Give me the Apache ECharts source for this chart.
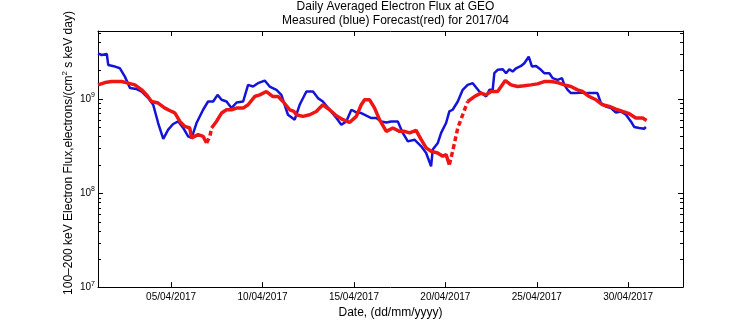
<!DOCTYPE html>
<html><head><meta charset="utf-8">
<script src="https://cdn.jsdelivr.net/npm/echarts@6/dist/echarts.min.js"></script>
<style>html,body{margin:0;padding:0;background:#fff}#c{width:756px;height:324px}</style>
</head><body><div id="c"></div><script>
// Day of April (1.0 = 01/04/2017 00:00), flux in units of 1e9
const blueDays = [1.00,1.20,1.48,1.56,1.93,2.20,2.47,2.75,3.11,3.39,3.75,4.02,4.29,4.57,4.84,5.11,5.39,5.66,5.93,6.12,6.39,6.75,7.02,7.30,7.54,7.76,8.03,8.30,8.58,8.94,9.21,9.48,9.75,10.12,10.39,10.76,11.03,11.39,11.49,11.76,12.03,12.40,12.76,13.03,13.30,13.67,14.04,14.31,14.58,14.86,15.13,15.40,15.68,15.95,16.22,16.49,16.77,17.04,17.40,17.67,17.95,18.31,18.68,18.95,19.22,19.31,19.59,19.77,20.04,20.22,20.40,20.68,20.95,21.22,21.50,21.86,22.23,22.41,22.59,22.68,22.86,23.14,23.32,23.50,23.68,23.87,24.14,24.32,24.56,24.74,24.96,25.23,25.41,25.69,25.87,26.14,26.38,26.51,26.69,26.87,27.14,27.50,27.78,28.05,28.32,28.51,28.78,29.06,29.33,29.60,29.88,30.15,30.33,30.61,30.87,30.97];
const blueFluxE9 = [3.04,2.92,2.99,2.29,2.20,2.11,1.72,1.30,1.27,1.195,1.017,0.864,0.553,0.375,0.47,0.54,0.575,0.49,0.399,0.384,0.553,0.765,0.936,0.936,1.10,0.976,0.936,0.797,0.914,0.936,1.406,1.35,1.466,1.562,1.35,1.245,1.10,0.677,0.650,0.60,0.864,1.195,1.195,1.017,0.936,0.765,0.625,0.531,0.575,0.765,0.716,0.706,0.661,0.625,0.625,0.575,0.561,0.575,0.575,0.434,0.353,0.368,0.313,0.266,0.192,0.289,0.340,0.434,0.553,0.734,0.765,0.936,1.245,1.406,1.466,1.195,1.057,1.245,1.245,1.87,2.03,2.06,1.87,2.06,1.945,2.11,2.235,2.387,2.80,2.20,2.235,2.03,1.87,1.87,1.656,1.589,1.656,1.406,1.245,1.149,1.149,1.166,1.149,1.149,1.149,0.901,0.829,0.797,0.716,0.734,0.677,0.575,0.502,0.49,0.481,0.502];

// null flux = gap in the forecast line
const redDays = [1.00,1.38,1.75,2.29,2.65,3.02,3.39,3.66,3.93,4.29,4.66,5.03,5.21,5.48,5.75,6.02,6.12,6.48,6.75,6.94,7.05,7.21,7.48,7.76,8.03,8.30,8.58,8.94,9.21,9.57,9.85,10.21,10.57,10.85,11.12,11.49,11.72,11.85,12.21,12.58,12.94,13.30,13.67,14.04,14.40,14.76,15.13,15.40,15.58,15.86,16.13,16.40,16.77,17.13,17.49,17.77,18.04,18.40,18.68,18.95,19.22,19.58,19.86,20.04,20.22,20.70,21.22,21.59,21.95,22.23,22.50,22.86,23.05,23.28,23.59,23.95,24.32,24.68,25.04,25.41,25.78,26.14,26.51,26.87,27.23,27.50,27.87,28.24,28.60,28.97,29.33,29.70,30.06,30.42,30.79,31.01];
const redFluxE9 = [1.406,1.488,1.524,1.524,1.466,1.406,1.245,1.10,0.936,0.901,0.797,0.734,0.706,0.575,0.509,0.49,0.384,0.416,0.399,0.340,null,0.49,0.575,0.706,0.765,0.765,0.797,0.797,0.864,1.057,1.10,1.195,1.057,1.057,0.936,0.765,0.734,0.677,0.650,0.677,0.734,0.864,0.765,0.661,0.60,0.561,0.650,0.864,0.976,0.976,0.797,0.60,0.451,0.49,0.451,0.451,0.434,0.462,0.368,0.301,0.277,0.266,0.245,0.2555,0.200,null,0.936,1.057,1.149,1.10,1.195,1.195,1.35,1.562,1.406,1.35,1.373,1.406,1.441,1.524,1.524,1.488,1.406,1.35,1.245,1.195,1.057,0.976,0.864,0.829,0.778,0.734,0.694,0.625,0.625,0.589];
// sparse (dotted-looking) stretches of the forecast
const redGapDays = [6.94,7.12,7.21,12.0,20.22,20.40,20.68,20.95,21.22];
const redGapFluxE9 = [0.340,0.399,0.49,null,0.200,0.277,0.49,0.677,0.936];

const dateTicks = [5,10,15,20,25,30];
const dateLabels = ['05/04/2017','10/04/2017','15/04/2017','20/04/2017','25/04/2017','30/04/2017'];
const yMajor = [1e7,1e8,1e9];
const yMinor = [2e7,3e7,4e7,5e7,6e7,7e7,8e7,9e7,2e8,3e8,4e8,5e8,6e8,7e8,8e8,9e8,2e9,3e9,4e9,5e9];
const xMin = 1, xMax = 33, yMin = 1e7, yMax = 5.25e9;

const toPairs = (d, f) => d.map((x, i) => [x, f[i] == null ? '-' : f[i] * 1e9]);
const FONT = 'Liberation Sans, Arial, sans-serif';
const AX = {color:'#000', width:1};

const chart = echarts.init(document.getElementById('c'), null, {renderer:'canvas'});
chart.setOption({
  animation:false,
  backgroundColor:'#fff',
  textStyle:{fontFamily:FONT},
  title:{
    text:'Daily Averaged Electron Flux at GEO\nMeasured (blue) Forecast(red) for 2017/04',
    left:390.5, top:-5, textAlign:'center',
    textStyle:{fontSize:12, fontWeight:'normal', color:'#000', lineHeight:13.5, fontFamily:FONT}
  },
  graphic:[{
    type:'text', x:68.5, y:153, rotation:Math.PI/2,
    style:{
      text:'100\u2013200 keV Electron Flux,electrons/(cm{s|2} s keV day)',
      fontSize:12, fontFamily:FONT, fill:'#000', align:'center', verticalAlign:'middle', lineHeight:15,
      rich:{s:{fontSize:8, fontFamily:FONT, fill:'#000', lineHeight:9, verticalAlign:'top'}}
    }
  }],
  grid:[
    {left:98, right:73, top:31, bottom:36},
    {left:98, right:73, top:31, bottom:36}
  ],
  xAxis:[
    {type:'value', gridIndex:0, min:xMin, max:xMax, position:'bottom',
     axisLine:{show:true, lineStyle:AX},
     axisTick:{show:true, inside:true, length:5, customValues:dateTicks, lineStyle:AX},
     axisLabel:{customValues:dateTicks, formatter:(v)=>dateLabels[dateTicks.indexOf(Math.round(v))], fontSize:10, color:'#000', margin:5, fontFamily:FONT},
     splitLine:{show:false},
     name:'Date, (dd/mm/yyyy)', nameLocation:'middle', nameGap:16,
     nameTextStyle:{fontSize:12, color:'#000', fontFamily:FONT, verticalAlign:'top'}},
    {type:'value', gridIndex:0, min:xMin, max:xMax, position:'top',
     axisLine:{show:true, lineStyle:AX},
     axisTick:{show:true, inside:true, length:5, customValues:dateTicks, lineStyle:AX},
     axisLabel:{show:false}, splitLine:{show:false}},
    {type:'value', gridIndex:1, min:xMin, max:xMax, show:false}
  ],
  yAxis:[
    {type:'log', logBase:10, gridIndex:0, min:yMin, max:yMax, position:'left',
     axisLine:{show:true, lineStyle:AX},
     axisTick:{show:true, inside:true, length:5, customValues:yMajor, lineStyle:AX},
     axisLabel:{customValues:yMajor, margin:3, color:'#000',
       formatter:(v)=>'{b|10}{s|' + Math.round(Math.log10(v)) + '}',
       rich:{b:{fontSize:10, fontFamily:FONT, color:'#000', lineHeight:14},
             s:{fontSize:7, fontFamily:FONT, color:'#000', lineHeight:8, verticalAlign:'top'}}},
     splitLine:{show:false}},
    {type:'log', logBase:10, gridIndex:0, min:yMin, max:yMax, position:'right',
     axisLine:{show:true, lineStyle:AX},
     axisTick:{show:true, inside:true, length:5, customValues:yMajor, lineStyle:AX},
     axisLabel:{show:false}, splitLine:{show:false}},
    {type:'log', logBase:10, gridIndex:1, min:yMin, max:yMax, position:'left',
     axisLine:{show:false},
     axisTick:{show:true, inside:true, length:3, customValues:yMinor, lineStyle:AX},
     axisLabel:{show:false}, splitLine:{show:false}},
    {type:'log', logBase:10, gridIndex:1, min:yMin, max:yMax, position:'right',
     axisLine:{show:false},
     axisTick:{show:true, inside:true, length:3, customValues:yMinor, lineStyle:AX},
     axisLabel:{show:false}, splitLine:{show:false}}
  ],
  series:[
    {type:'line', name:'Measured', xAxisIndex:0, yAxisIndex:0, data:toPairs(blueDays, blueFluxE9),
     showSymbol:false, lineStyle:{color:'#1414d8', width:2.5}, itemStyle:{color:'#1414d8'}, z:3},
    {type:'line', name:'Forecast', xAxisIndex:0, yAxisIndex:0, data:toPairs(redDays, redFluxE9),
     showSymbol:false, connectNulls:false, lineStyle:{color:'#ee1515', width:3.5}, itemStyle:{color:'#ee1515'}, z:4},
    {type:'line', name:'ForecastGap', xAxisIndex:0, yAxisIndex:0, data:toPairs(redGapDays, redGapFluxE9),
     showSymbol:false, connectNulls:false, lineStyle:{color:'#ee1515', width:3.5, type:[5,3]}, itemStyle:{color:'#ee1515'}, z:4}
  ]
});
</script></body></html>
